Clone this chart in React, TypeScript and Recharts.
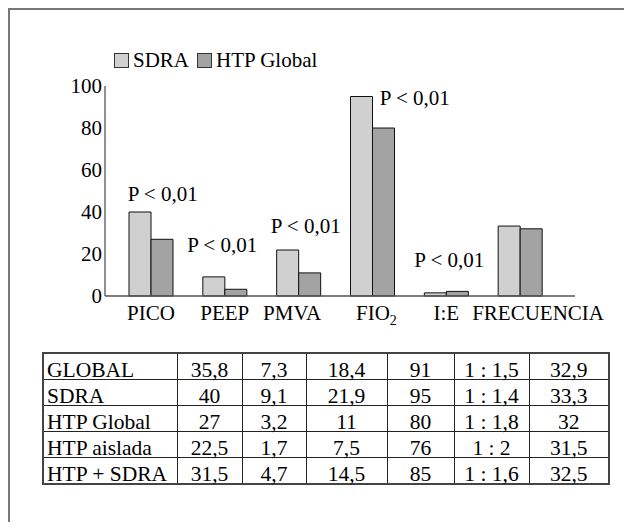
import React from 'react';
import { BarChart, Bar, XAxis, YAxis, LabelList } from 'recharts';

const categories = ['PICO', 'PEEP', 'PMVA', 'FIO2', 'I:E', 'FRECUENCIA'];
const seriesNames = ['SDRA', 'HTP Global'];
const sdraValues = [40, 9.1, 21.9, 95, 1.5, 33.3];
const htpGlobalValues = [27, 3.2, 11, 80, 2.2, 32];
const pValueLabels = ['P < 0,01', 'P < 0,01', 'P < 0,01', 'P < 0,01', 'P < 0,01', ''];
const yTicks = [0, 20, 40, 60, 80, 100];

const tableRowLabels = ['GLOBAL', 'SDRA', 'HTP Global', 'HTP aislada', 'HTP + SDRA'];
const globalRow = ['35,8', '7,3', '18,4', '91', '1 : 1,5', '32,9'];
const sdraRow = ['40', '9,1', '21,9', '95', '1 : 1,4', '33,3'];
const htpGlobalRow = ['27', '3,2', '11', '80', '1 : 1,8', '32'];
const htpAisladaRow = ['22,5', '1,7', '7,5', '76', '1 : 2', '31,5'];
const htpSdraRow = ['31,5', '4,7', '14,5', '85', '1 : 1,6', '32,5'];
const tableRows = [globalRow, sdraRow, htpGlobalRow, htpAisladaRow, htpSdraRow];

const FONT = "'Liberation Serif', 'DejaVu Serif', serif";
const COLORS = ['#d0d0d0', '#a3a3a3'];

const data = categories.map((c, i) => ({
  name: c,
  sdra: sdraValues[i],
  htp: htpGlobalValues[i],
  p: pValueLabels[i],
}));

// label placement offsets relative to SDRA bar's top-left corner
const pOffsets = [
  [-1.3, -11.3],
  [-15.6, -24.9],
  [-6, -17.5],
  [29.3, 8.5],
  [-10, -25.9],
  [0, 0],
];
const tickDx = [0, 0, -6.5, 4, 0, 18];

const PLabel = (props: any) => {
  const { x, y, index, value } = props;
  if (!value) return null;
  const off = pOffsets[index] || [0, 0];
  return (
    <text x={Number(x) + off[0]} y={Number(y) + off[1]} fontSize={21} fontFamily={FONT} fill="#000">
      {value}
    </text>
  );
};

const XTick = (props: any) => {
  const { x, y, payload } = props;
  const label = String(payload.value);
  const i = categories.indexOf(label);
  const dx = tickDx[i] || 0;
  const by = Number(y) + 23.7;
  if (label === 'FIO2') {
    return (
      <text x={Number(x) + dx} y={by} textAnchor="middle" fontSize={21} fontFamily={FONT} fill="#000">
        FIO
        <tspan fontSize={14} dy={5}>2</tspan>
      </text>
    );
  }
  return (
    <text x={Number(x) + dx} y={by} textAnchor="middle" fontSize={21} fontFamily={FONT} fill="#000">
      {label}
    </text>
  );
};

export default function App() {
  const colWidths = [134, 65, 64, 81, 67, 75, 80];
  return (
    <div style={{ position: 'relative', width: 624, height: 514, fontFamily: FONT }}>
      <div
        style={{
          position: 'absolute',
          left: 0,
          top: 0,
          width: 624,
          height: 522,
          borderTop: '2px solid #777',
          borderLeft: '2px solid #777',
          boxSizing: 'border-box',
        }}
      />
      <div
        style={{
          position: 'absolute',
          left: 106,
          top: 41,
          display: 'flex',
          alignItems: 'center',
          fontFamily: FONT,
          fontSize: 21,
          lineHeight: '22px',
          color: '#000',
          whiteSpace: 'nowrap',
        }}
      >
        {seriesNames.map((n, i) => (
          <div key={n} style={{ display: 'flex', alignItems: 'center', marginRight: 8 }}>
            <div
              style={{
                width: 13,
                height: 13,
                background: COLORS[i],
                border: '1px solid #333',
                marginRight: 4,
              }}
            />
            <span>{n}</span>
          </div>
        ))}
      </div>
      <div style={{ position: 'absolute', left: 0, top: 0 }}>
        <BarChart
          width={620}
          height={330}
          data={data}
          margin={{ top: 78, right: 53, left: 37, bottom: 12 }}
          barSize={22}
          barGap={0}
        >
          <XAxis
            dataKey="name"
            height={30}
            padding={{ left: 9, right: 18 }}
            tickLine={false}
            tickSize={0}
            tickMargin={0}
            axisLine={{ stroke: '#555', strokeWidth: 1.5 }}
            tick={<XTick />}
            interval={0}
          />
          <YAxis
            width={60}
            domain={[0, 100]}
            ticks={yTicks}
            interval={0}
            tickLine={false}
            tickSize={0}
            tickMargin={3}
            axisLine={{ stroke: '#222', strokeWidth: 1 }}
            tick={{ fill: '#000', fontSize: 21, fontFamily: FONT }}
          />
          <Bar dataKey="sdra" name={seriesNames[0]} fill={COLORS[0]} stroke="#111" strokeWidth={1} isAnimationActive={false}>
            <LabelList dataKey="p" content={<PLabel />} />
          </Bar>
          <Bar dataKey="htp" name={seriesNames[1]} fill={COLORS[1]} stroke="#111" strokeWidth={1} isAnimationActive={false} />
        </BarChart>
      </div>
      <table
        style={{
          position: 'absolute',
          left: 34,
          top: 344,
          borderCollapse: 'collapse',
          tableLayout: 'fixed',
          width: 566,
          fontFamily: FONT,
          fontSize: 21.5,
          color: '#000',
          border: '2px solid #444',
        }}
      >
        <colgroup>
          {colWidths.map((w, i) => (
            <col key={i} style={{ width: w }} />
          ))}
        </colgroup>
        <tbody>
          {tableRows.map((row, r) => (
            <tr key={r}>
              <td style={{ border: '1px solid #222', padding: '0 0 0 3px', textAlign: 'left', whiteSpace: 'nowrap' }}>
                <div style={{ height: 25, lineHeight: '25px', position: 'relative', top: 4 }}>{tableRowLabels[r]}</div>
              </td>
              {row.map((v, c) => (
                <td key={c} style={{ border: '1px solid #222', padding: 0, textAlign: 'center', whiteSpace: 'nowrap' }}>
                  <div style={{ height: 25, lineHeight: '25px', position: 'relative', top: 4 }}>{v}</div>
                </td>
              ))}
            </tr>
          ))}
        </tbody>
      </table>
    </div>
  );
}
